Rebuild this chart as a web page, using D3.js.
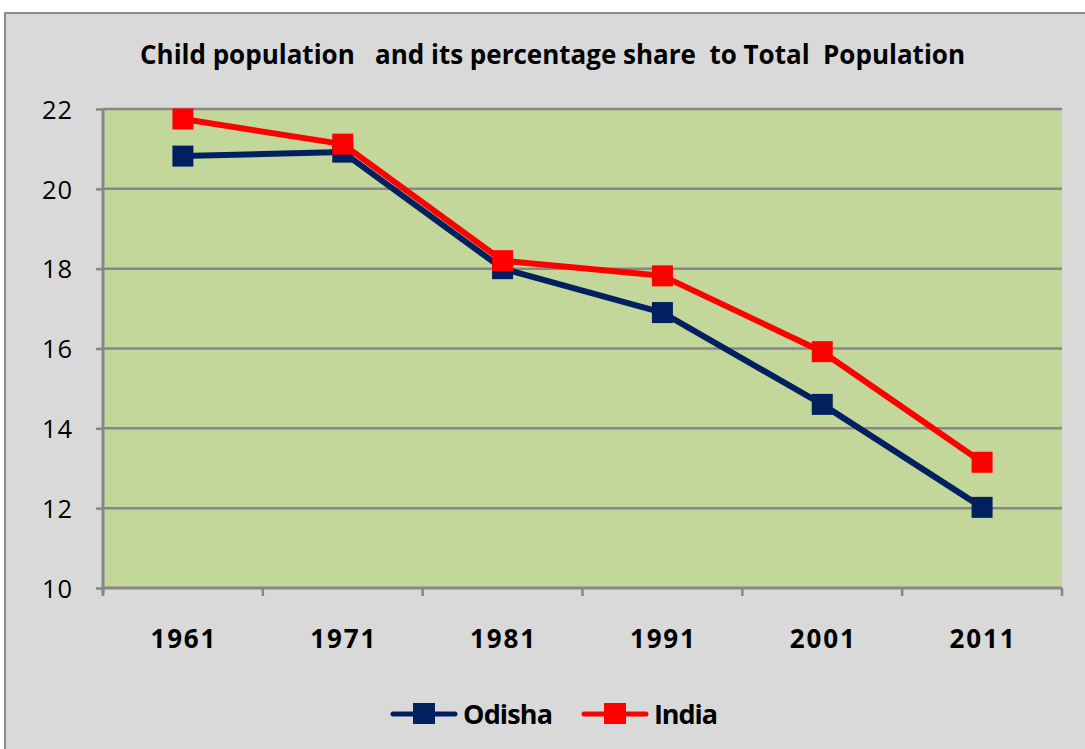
<!DOCTYPE html>
<html>
<head>
<meta charset="utf-8">
<script src="https://cdn.jsdelivr.net/npm/d3@7"></script>
<style>
  body { margin: 0; background: #fff; }
  text { font-family: "Open Sans", sans-serif; fill: #000; }
</style>
</head>
<body>
<svg id="chart" width="1085" height="749"></svg>
<script>
// data
const years = ["1961", "1971", "1981", "1991", "2001", "2011"];
const odisha = [20.82, 20.92, 18.0, 16.9, 14.6, 12.02];
const india = [21.75, 21.12, 18.2, 17.82, 15.92, 13.15];
const yTicks = [10, 12, 14, 16, 18, 20, 22];
const titleText = "Child population   and its percentage share  to Total  Population";

const WIDTH = 1085;
const HEIGHT = 749;
const PLOT_LEFT = 103;
const PLOT_RIGHT = 1062;
const PLOT_TOP = 109;
const PLOT_BOTTOM = 588;

const ODISHA_COLOR = "#002060";
const INDIA_COLOR = "#ff0000";
const GRID_COLOR = "#878787";

const svg = d3.select("#chart");

// outer chart box
svg.append("rect")
    .attr("x", 5).attr("y", 13)
    .attr("width", WIDTH + 10).attr("height", HEIGHT + 10)
    .attr("fill", "#d9d9d9")
    .attr("stroke", "#8c8c8c").attr("stroke-width", 2);

const x = d3.scaleBand().domain(years).range([PLOT_LEFT, PLOT_RIGHT]);
const y = d3.scaleLinear().domain([10, 22]).range([PLOT_BOTTOM, PLOT_TOP]);

// plot area
svg.append("rect")
    .attr("x", PLOT_LEFT).attr("y", PLOT_TOP)
    .attr("width", PLOT_RIGHT - PLOT_LEFT).attr("height", PLOT_BOTTOM - PLOT_TOP)
    .attr("fill", "#c4d79b");

// gridlines
svg.append("g").selectAll("line")
    .data(yTicks.filter(d => d > 10))
    .join("line")
    .attr("x1", PLOT_LEFT).attr("x2", PLOT_RIGHT)
    .attr("y1", d => y(d)).attr("y2", d => y(d))
    .attr("stroke", GRID_COLOR).attr("stroke-width", 2.5);

// y axis
const yAxis = svg.append("g")
    .attr("transform", "translate(" + PLOT_LEFT + ",0)")
    .call(d3.axisLeft(y).tickValues(yTicks).tickSize(7).tickPadding(24));
yAxis.select(".domain").attr("stroke", GRID_COLOR).attr("stroke-width", 3)
    .attr("d", "M0," + (PLOT_BOTTOM + 6) + "V" + PLOT_TOP);
yAxis.selectAll(".tick line").attr("stroke", GRID_COLOR).attr("stroke-width", 2.5);
yAxis.selectAll(".tick text")
    .attr("font-size", 25.5).attr("font-family", "'Open Sans', sans-serif").attr("fill", "#000")
    .attr("dy", "0.36em")
    .attr("textLength", 30).attr("lengthAdjust", "spacing");

// x axis with ticks between categories
const xAxis = svg.append("g")
    .attr("transform", "translate(0," + PLOT_BOTTOM + ")");
xAxis.append("line")
    .attr("x1", PLOT_LEFT).attr("x2", PLOT_RIGHT)
    .attr("stroke", GRID_COLOR).attr("stroke-width", 3);
const bounds = years.map(d => x(d)).concat([x(years[years.length - 1]) + x.bandwidth()]);
xAxis.selectAll(".xtick")
    .data(bounds)
    .join("line")
    .attr("class", "xtick")
    .attr("x1", d => d).attr("x2", d => d)
    .attr("y1", 0).attr("y2", 8)
    .attr("stroke", GRID_COLOR).attr("stroke-width", 2.5);
xAxis.selectAll(".xlabel")
    .data(years)
    .join("text")
    .attr("class", "xlabel")
    .attr("x", d => x(d) + x.bandwidth() / 2)
    .attr("y", 60)
    .attr("text-anchor", "middle")
    .attr("font-size", 26).attr("font-weight", "bold")
    .attr("textLength", 65).attr("lengthAdjust", "spacing")
    .text(d => d);

// series
const series = [
    { name: "Odisha", values: odisha, color: ODISHA_COLOR },
    { name: "India", values: india, color: INDIA_COLOR }
];
const line = d3.line()
    .x((d, i) => x(years[i]) + x.bandwidth() / 2)
    .y(d => y(d));

const MARK = 21;
series.forEach(s => {
    svg.append("path")
        .datum(s.values)
        .attr("d", line)
        .attr("fill", "none")
        .attr("stroke", s.color)
        .attr("stroke-width", 6)
        .attr("stroke-linejoin", "round");
    svg.append("g").selectAll("rect")
        .data(s.values)
        .join("rect")
        .attr("x", (d, i) => x(years[i]) + x.bandwidth() / 2 - MARK / 2)
        .attr("y", d => y(d) - MARK / 2)
        .attr("width", MARK).attr("height", MARK)
        .attr("fill", s.color);
});

// title
svg.append("text")
    .attr("x", 140).attr("y", 64)
    .attr("font-size", 26).attr("font-weight", "bold")
    .attr("xml:space", "preserve")
    .style("white-space", "pre")
    .attr("textLength", 825).attr("lengthAdjust", "spacing")
    .text(titleText);

// legend
const legend = [
    { name: "Odisha", color: ODISHA_COLOR, x0: 393, w: 90 },
    { name: "India", color: INDIA_COLOR, x0: 584, w: 64 }
];
const LEG_Y = 714;
legend.forEach(l => {
    svg.append("line")
        .attr("x1", l.x0).attr("x2", l.x0 + 62)
        .attr("y1", LEG_Y).attr("y2", LEG_Y)
        .attr("stroke", l.color).attr("stroke-width", 5)
        .attr("stroke-linecap", "round");
    svg.append("rect")
        .attr("x", l.x0 + 31 - 11).attr("y", LEG_Y - 11)
        .attr("width", 22).attr("height", 21)
        .attr("fill", l.color);
    svg.append("text")
        .attr("x", l.x0 + 70).attr("y", LEG_Y + 10)
        .attr("font-size", 27).attr("font-weight", "bold")
        .attr("textLength", l.w).attr("lengthAdjust", "spacing")
        .text(l.name);
});
</script>
</body>
</html>
